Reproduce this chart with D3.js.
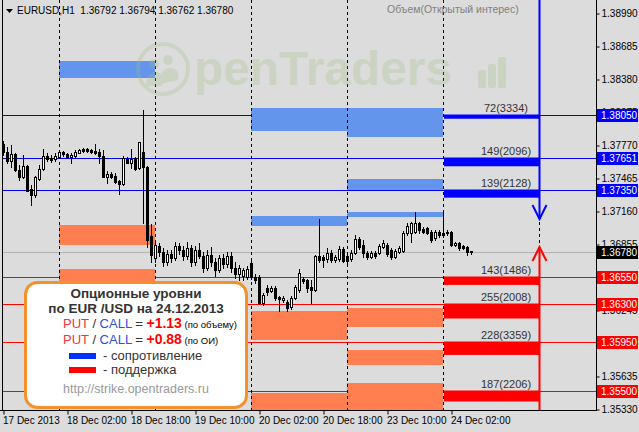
<!DOCTYPE html>
<html><head><meta charset="utf-8">
<script src="https://cdn.jsdelivr.net/npm/d3@7"></script>
<style>
body{margin:0;background:#dcdcdc;}
svg{display:block;font-family:"Liberation Sans",Arial,sans-serif;}
</style>
</head><body>
<svg id="c" width="639" height="432"></svg>
<script>
// ---------------- DATA ----------------
const symbol = "EURUSD,H1";
const lastOHLC = [1.36792, 1.36794, 1.36762, 1.36780];
const startTime = "2013-12-17T10:00";
const opens = [1.37779,1.37706,1.37622,1.37687,1.37539,1.37475,1.37576,1.37364,1.37308,1.37456,
1.37548,1.37669,1.37650,1.37641,1.37659,1.37706,1.37687,1.37659,1.37669,1.37696,
1.37733,1.37733,1.37724,1.37715,1.37706,1.37669,1.37475,1.37502,1.37484,1.37438,
1.37410,1.37641,1.37604,1.37650,1.37558,1.37706,1.37567,1.36929,1.36726,1.36837,
1.36781,1.36689,1.36763,1.36726,1.36837,1.36800,1.36745,1.36818,1.36689,1.36800,
1.36745,1.36634,1.36754,1.36689,1.36615,1.36726,1.36671,1.36745,1.36634,1.36578,
1.36560,1.36550,1.36680,1.36550,1.36550,1.36310,1.36449,1.36421,1.36449,1.36366,
1.36338,1.36320,1.36273,1.36356,1.36430,1.36532,1.36523,1.36458,1.36430,1.36745,
1.36735,1.36717,1.36772,1.36708,1.36717,1.36809,1.36745,1.36717,1.36772,1.36902,
1.36846,1.36772,1.36735,1.36772,1.36772,1.36828,1.36846,1.36800,1.36735,1.36781,
1.36791,1.36957,1.36957,1.36966,1.37049,1.36994,1.37003,1.36966,1.36911,1.36966,
1.36957,1.36966,1.36966,1.36846,1.36865,1.36837,1.36828,1.36792];
const highs = [1.37807,1.37752,1.37770,1.37696,1.37585,1.37678,1.37585,1.37401,1.37484,1.37585,
1.37733,1.37696,1.37678,1.37696,1.37715,1.37715,1.37696,1.37696,1.37724,1.37733,
1.37742,1.37742,1.37733,1.37779,1.37733,1.37724,1.37530,1.37521,1.37511,1.37447,
1.37669,1.37659,1.37733,1.37659,1.37798,1.38094,1.37576,1.37040,1.36892,1.36865,
1.36818,1.36800,1.36800,1.36874,1.36865,1.36837,1.36874,1.36846,1.36837,1.36865,
1.36781,1.36800,1.36828,1.36726,1.36754,1.36763,1.36781,1.36781,1.36689,1.36661,
1.36634,1.36652,1.36708,1.36578,1.36569,1.36403,1.36477,1.36467,1.36467,1.36375,
1.36375,1.36338,1.36375,1.36477,1.36624,1.36550,1.36532,1.36523,1.36754,1.37086,
1.36754,1.36818,1.36800,1.36754,1.36837,1.36828,1.36763,1.36800,1.36939,1.36920,
1.36892,1.36791,1.36791,1.36791,1.36855,1.36892,1.36865,1.36818,1.36809,1.36837,
1.36976,1.37049,1.37059,1.37151,1.37059,1.37012,1.37012,1.36985,1.36985,1.36985,
1.37151,1.36985,1.36976,1.36874,1.36874,1.36846,1.36837,1.36794];
const lows = [1.37678,1.37604,1.37567,1.37530,1.37447,1.37465,1.37345,1.37216,1.37290,1.37447,
1.37539,1.37622,1.37613,1.37622,1.37650,1.37669,1.37650,1.37604,1.37659,1.37696,
1.37706,1.37706,1.37696,1.37687,1.37604,1.37475,1.37419,1.37465,1.37419,1.37317,
1.37401,1.37604,1.37558,1.37539,1.37548,1.37049,1.36828,1.36689,1.36689,1.36745,
1.36652,1.36661,1.36689,1.36708,1.36763,1.36708,1.36717,1.36652,1.36661,1.36726,
1.36597,1.36615,1.36652,1.36560,1.36597,1.36634,1.36643,1.36597,1.36541,1.36523,
1.36523,1.36532,1.36532,1.36495,1.36301,1.36292,1.36384,1.36412,1.36338,1.36236,
1.36320,1.36236,1.36255,1.36347,1.36412,1.36495,1.36412,1.36310,1.36421,1.36689,
1.36643,1.36689,1.36689,1.36689,1.36698,1.36689,1.36680,1.36698,1.36763,1.36809,
1.36735,1.36717,1.36726,1.36726,1.36763,1.36818,1.36745,1.36717,1.36726,1.36772,
1.36781,1.36939,1.36874,1.36957,1.36957,1.36957,1.36948,1.36874,1.36892,1.36920,
1.36920,1.36939,1.36837,1.36837,1.36800,1.36809,1.36754,1.36762];
const closes = [1.37706,1.37622,1.37687,1.37539,1.37475,1.37576,1.37345,1.37308,1.37475,1.37548,
1.37669,1.37641,1.37632,1.37669,1.37706,1.37687,1.37659,1.37678,1.37706,1.37724,
1.37715,1.37715,1.37706,1.37696,1.37669,1.37475,1.37502,1.37475,1.37428,1.37410,
1.37650,1.37604,1.37641,1.37548,1.37798,1.37567,1.36892,1.36754,1.36846,1.36781,
1.36689,1.36763,1.36726,1.36837,1.36800,1.36745,1.36818,1.36689,1.36800,1.36745,
1.36634,1.36754,1.36689,1.36615,1.36726,1.36671,1.36745,1.36634,1.36578,1.36634,
1.36615,1.36624,1.36550,1.36523,1.36310,1.36384,1.36412,1.36449,1.36356,1.36347,
1.36356,1.36264,1.36356,1.36458,1.36587,1.36514,1.36449,1.36430,1.36745,1.36708,
1.36708,1.36772,1.36708,1.36735,1.36809,1.36698,1.36698,1.36772,1.36902,1.36828,
1.36772,1.36735,1.36772,1.36745,1.36837,1.36865,1.36763,1.36735,1.36791,1.36818,
1.36957,1.37022,1.37049,1.37049,1.36985,1.36966,1.36957,1.36892,1.36966,1.36939,
1.36939,1.36957,1.36846,1.36865,1.36818,1.36818,1.36781,1.36780];

const yTicks = [1.38990,1.38685,1.38380,1.38075,1.37770,1.37465,1.37160,1.36855,1.36550,1.36245,1.35940,1.35635,1.35330];
const xTickLabels = ["17 Dec 2013","18 Dec 02:00","18 Dec 18:00","19 Dec 10:00","20 Dec 02:00","20 Dec 18:00","23 Dec 10:00","24 Dec 02:00"];

// past option zones: day, top price, bottom price, kind
const zoneDays    = [18,18,18,20,23,23,20,23,20,23,23,20,23];
const zoneTops    = [1.38546,1.37031,1.36624,1.38112,1.38112,1.37456,1.37114,1.37151,1.36236,1.36264,1.35876,1.35479,1.35571];
const zoneBottoms = [1.38389,1.36846,1.36495,1.37900,1.37844,1.37354,1.37022,1.37105,1.35968,1.36089,1.35737,1.35322,1.35322];
const zoneKinds   = ["r","s","s","r","r","r","r","r","s","s","s","s","s"];

// current day (24 Dec) levels
const resistPrices = [1.38050,1.37651,1.37350];
const resistVol    = [72,149,139];
const resistOI     = [3334,2096,2128];
const supportPrices= [1.36550,1.36300,1.35950,1.35500];
const supportVol   = [143,255,228,187];
const supportOI    = [1486,2008,3359,2206];
const arrowTips    = [1.37090, 1.36830]; // down (blue), up (red)

const legendTitle = ["Опционные уровни","по EUR /USD на 24.12.2013"];
const pcRatios = ["+1.13","+0.88"];
const pcNotes  = ["(по объему)","(по ОИ)"];
const legendItems = ["- сопротивление","- поддержка"];
const legendUrl = "http://strike.opentraders.ru";
const panelTitle = "Объем(Открытый интерес)";

// ---------------- CHART ----------------
const svg = d3.select("#c");
const W=639,H=432, L=2, R=596, B=410;
svg.append("rect").attr("width",W).attr("height",H).attr("fill","#dcdcdc");

// time index (hourly bars, weekends skipped)
const times=[]; {let t=new Date(startTime); while(times.length<149){const dw=t.getDay(); if(dw!==0&&dw!==6) times.push(new Date(t)); t=new Date(t.getTime()+3600e3);}}
const dayStart = day => times.findIndex(d=>d.getDate()===day && d.getHours()===0);

const x = d3.scaleLinear().domain([-0.25,148.25]).range([L,R]);
const y = d3.scaleLinear().domain([1.35330,1.38990]).range([409,13]);
const px = v => Math.round(x(v));
const py = v => Math.round(y(v));

const g = svg.append("g");

// level lines
const lvl = g.append("g");
resistPrices.forEach(p=>lvl.append("line").attr("x1",L).attr("x2",R).attr("y1",py(p)+0.5).attr("y2",py(p)+0.5).attr("stroke","#0000ee"));
supportPrices.forEach(p=>lvl.append("line").attr("x1",L).attr("x2",R).attr("y1",py(p)+0.5).attr("y2",py(p)+0.5).attr("stroke","#ff0000"));
lvl.append("line").attr("x1",L).attr("x2",R).attr("y1",py(lastOHLC[3])+0.5).attr("y2",py(lastOHLC[3])+0.5).attr("stroke","#b4b4b4");

// past zones
zoneDays.forEach((d,i)=>{
  const s=dayStart(d);
  g.append("rect").attr("x",px(s)).attr("width",px(s+24)-px(s))
   .attr("y",py(zoneTops[i])).attr("height",py(zoneBottoms[i])-py(zoneTops[i]))
   .attr("fill",zoneKinds[i]==="r"?"#6495ed":"#ff7f50");
});

// day separators
times.forEach((t,i)=>{ if(t.getHours()===0){
  g.append("line").attr("x1",px(i)+0.5).attr("x2",px(i)+0.5).attr("y1",0).attr("y2",B)
   .attr("stroke","#000").attr("stroke-dasharray","3,3");
}});

// watermark
const wm = g.append("g").attr("opacity",0.26).attr("fill","#9cc080").attr("stroke","#9cc080");
wm.append("circle").attr("cx",163).attr("cy",69).attr("r",25).attr("fill","none").attr("stroke-width",4);
wm.append("circle").attr("cx",154).attr("cy",64).attr("r",5).attr("stroke","none");
wm.append("circle").attr("cx",168).attr("cy",60).attr("r",5).attr("stroke","none");
wm.append("path").attr("d","M146,86 Q146,72 156,72 Q164,72 162,86Z M160,84 Q160,68 170,68 Q180,68 178,80Z").attr("stroke","none");
wm.append("text").attr("x",194).attr("y",85).attr("font-size",48).attr("font-weight","bold").attr("stroke","none")
  .attr("textLength",258).attr("lengthAdjust","spacingAndGlyphs").text("penTraders");
[[478,70],[488,64],[498,57]].forEach(([bx,by])=>wm.append("rect").attr("x",bx).attr("y",by).attr("width",8).attr("height",88-by).attr("rx",2).attr("stroke","none"));

// candles
const cg = g.append("g");
closes.forEach((c,i)=>{
  const o=opens[i], cx=px(i);
  cg.append("line").attr("x1",cx+0.5).attr("x2",cx+0.5).attr("y1",py(highs[i])).attr("y2",py(lows[i])+1).attr("stroke","#000");
  const top=Math.min(py(o),py(c)), bot=Math.max(py(o),py(c));
  if(c>o){
    cg.append("rect").attr("x",cx-0.5).attr("y",top+0.5).attr("width",2).attr("height",Math.max(bot-top,1)).attr("fill","#fff").attr("stroke","#000");
  } else {
    cg.append("rect").attr("x",cx-1).attr("y",top).attr("width",3).attr("height",Math.max(bot-top,1)+ (bot===top?0:1)).attr("fill","#000");
  }
});

// current day level bars
const hScale = d3.scaleLinear().domain([0,255]).range([0,15]);
const cs = dayStart(24);
const drawLevels=(prices,vols,ois,col)=>prices.forEach((p,i)=>{
  g.append("rect").attr("x",px(cs)+1).attr("width",px(cs+24)-px(cs)-1).attr("y",py(p)-0.5)
    .attr("height",hScale(vols[i])).attr("fill",col);
  g.append("text").attr("x",506).attr("y",py(p)-3).attr("text-anchor","middle")
    .attr("font-size",11).attr("fill","#333").text(`${vols[i]}(${ois[i]})`);
});
drawLevels(resistPrices,resistVol,resistOI,"#0000ff");
drawLevels(supportPrices,supportVol,supportOI,"#ff0000");

// arrows
const ax = px(cs+24)+0.5;
g.append("line").attr("x1",ax).attr("x2",ax).attr("y1",0).attr("y2",py(arrowTips[0])).attr("stroke","#0000ff").attr("stroke-width",2);
g.append("path").attr("d",`M${ax-7},${py(arrowTips[0])-14}L${ax},${py(arrowTips[0])}L${ax+7},${py(arrowTips[0])-14}`).attr("fill","none").attr("stroke","#0000ff").attr("stroke-width",2);
g.append("line").attr("x1",ax).attr("x2",ax).attr("y1",B).attr("y2",py(arrowTips[1])).attr("stroke","#ff0000").attr("stroke-width",2);
g.append("path").attr("d",`M${ax-7},${py(arrowTips[1])+14}L${ax},${py(arrowTips[1])}L${ax+7},${py(arrowTips[1])+14}`).attr("fill","none").attr("stroke","#ff0000").attr("stroke-width",2);

// axes
svg.append("line").attr("x1",L+0.5).attr("x2",L+0.5).attr("y1",0).attr("y2",B).attr("stroke","#000");
svg.append("line").attr("x1",R+0.5).attr("x2",R+0.5).attr("y1",0).attr("y2",B+1).attr("stroke","#000");
svg.append("line").attr("x1",0).attr("x2",R+1).attr("y1",B+0.5).attr("y2",B+0.5).attr("stroke","#000");

const yAxis = svg.append("g").attr("transform",`translate(${R+0.5},0.5)`)
  .call(d3.axisRight(y).tickValues(yTicks).tickSize(3).tickPadding(2).tickFormat(d3.format(".5f")));
yAxis.select(".domain").remove();
yAxis.selectAll("text").attr("font-size",10).attr("font-family","Liberation Sans, Arial").attr("fill","#000");

const xAxis = svg.append("g").attr("transform",`translate(0.5,${B+0.5})`)
  .call(d3.axisBottom(x).tickValues(xTickLabels.map((_,i)=>i*16)).tickSize(4).tickPadding(2).tickFormat((d,i)=>xTickLabels[i]));
xAxis.select(".domain").remove();
xAxis.selectAll("text").attr("text-anchor","start").attr("dx",-1).attr("font-size",10).attr("font-family","Liberation Sans, Arial").attr("fill","#000");

// axis price boxes
const box=(p,col)=>{
  svg.append("rect").attr("x",R+1).attr("y",py(p)-6).attr("width",41).attr("height",13).attr("fill",col);
  svg.append("text").attr("x",R+5).attr("y",py(p)+4).attr("font-size",10).attr("fill","#fff").text(d3.format(".5f")(p));
};
resistPrices.forEach(p=>box(p,"#0000ff"));
supportPrices.forEach(p=>box(p,"#ff0000"));
box(lastOHLC[3],"#000");

// header
svg.append("path").attr("d","M6,9L13,9L9.5,13Z").attr("fill","#000");
svg.append("text").attr("x",17).attr("y",14).attr("font-size",10).attr("xml:space","preserve")
  .style("white-space","pre").text(`${symbol}  ${lastOHLC.map(d3.format(".5f")).join(" ")}`);
svg.append("text").attr("x",387).attr("y",13).attr("font-size",10.5).attr("fill","#808080").text(panelTitle);

// legend
const lg = svg.append("g");
lg.append("rect").attr("x",25.5).attr("y",282.5).attr("width",221).attr("height",125).attr("rx",12)
  .attr("fill","#fff").attr("stroke","#f5902a").attr("stroke-width",3);
legendTitle.forEach((t,i)=>lg.append("text").attr("x",136).attr("y",298+i*15).attr("text-anchor","middle")
  .attr("font-size",13.5).attr("font-weight","bold").attr("fill","#333").text(t));
pcRatios.forEach((r,i)=>{
  const t=lg.append("text").attr("x",63).attr("y",328+i*16).attr("font-size",13).attr("fill","#333").attr("xml:space","preserve");
  t.append("tspan").attr("fill","#e8383a").text("PUT");
  t.append("tspan").text(" / ");
  t.append("tspan").attr("fill","#3050d8").text("CALL");
  t.append("tspan").text(" = ");
  t.append("tspan").attr("fill","#ff0000").attr("font-weight","bold").attr("font-size",14).text(r);
  t.append("tspan").attr("font-size",9.5).attr("fill","#000").text(" "+pcNotes[i]);
});
["#0030ff","#ff0000"].forEach((c,i)=>{
  lg.append("rect").attr("x",69).attr("y",353+i*14).attr("width",27).attr("height",6).attr("fill",c);
  lg.append("text").attr("x",103).attr("y",360+i*14).attr("font-size",13).attr("fill","#333").text(legendItems[i]);
});
lg.append("text").attr("x",136).attr("y",393).attr("text-anchor","middle").attr("font-size",12.5).attr("fill","#999").text(legendUrl);
</script>
</body></html>
